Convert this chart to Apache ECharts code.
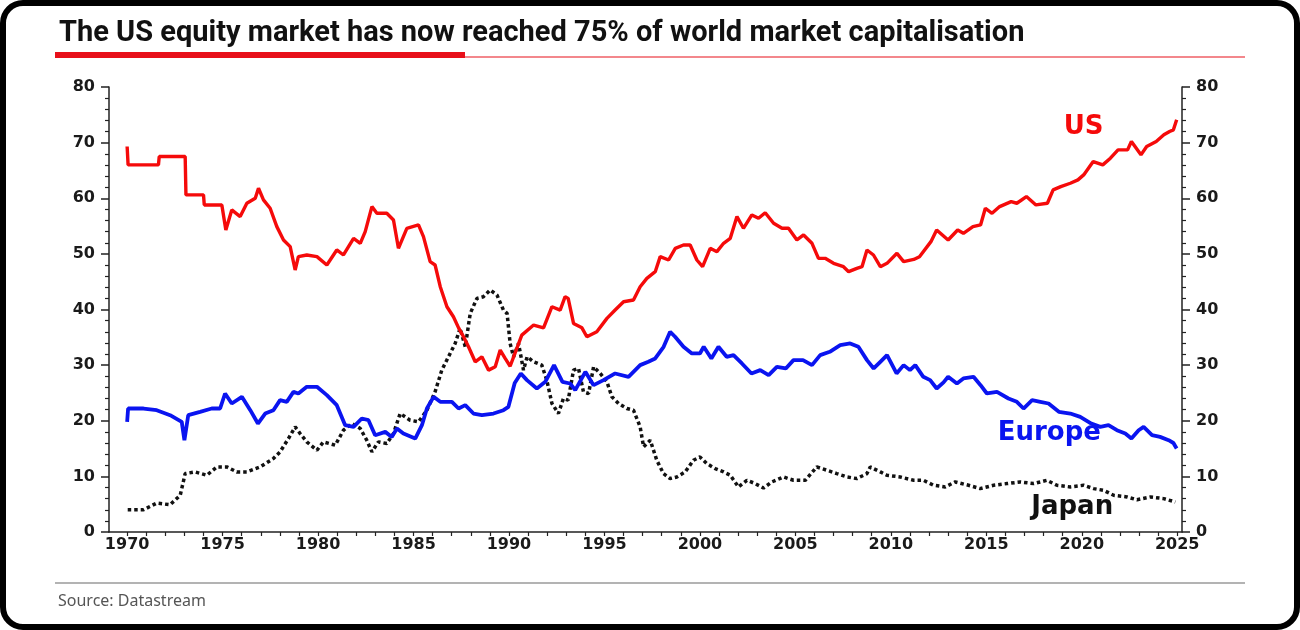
<!DOCTYPE html>
<html>
<head>
<meta charset="utf-8">
<script src="https://cdn.jsdelivr.net/npm/echarts@6/dist/echarts.min.js"></script>
<style>
  html, body { margin: 0; padding: 0; background: #fff; }
  #chart { width: 1300px; height: 630px; }
</style>
</head>
<body>
<div id="chart"></div>
<script>
// share of world market capitalisation, % ([year, value])
const usData = [
  [1970.0, 69.3], [1970.05, 66.0], [1971.64, 66.0], [1971.68, 67.5], [1973.04, 67.5], [1973.08, 60.6],
  [1974.0, 60.6], [1974.04, 58.8], [1974.96, 58.8], [1975.17, 54.3], [1975.48, 57.9], [1975.92, 56.7],
  [1976.27, 59.1], [1976.71, 60.0], [1976.88, 61.8], [1977.14, 59.7], [1977.49, 58.2], [1977.84, 54.9],
  [1978.19, 52.5], [1978.54, 51.3], [1978.8, 47.1], [1978.97, 49.5], [1979.41, 49.8], [1979.94, 49.5],
  [1980.46, 48.0], [1980.98, 50.7], [1981.33, 49.8], [1981.86, 52.8], [1982.21, 51.9], [1982.47, 54.0],
  [1982.82, 58.5], [1983.08, 57.3], [1983.6, 57.3], [1983.95, 56.1], [1984.21, 51.0], [1984.65, 54.6],
  [1985.26, 55.2], [1985.52, 53.1], [1985.87, 48.6], [1986.13, 48.0], [1986.4, 44.1], [1986.75, 40.5],
  [1987.09, 38.7], [1987.36, 36.7], [1987.62, 35.1], [1987.88, 33.3], [1988.23, 30.6], [1988.58, 31.5],
  [1988.93, 29.1], [1989.28, 29.7], [1989.54, 32.7], [1989.8, 31.2], [1990.06, 29.8], [1990.67, 35.4],
  [1991.29, 37.2], [1991.81, 36.7], [1992.25, 40.5], [1992.68, 39.9], [1992.94, 42.3], [1993.1, 42.0],
  [1993.38, 37.5], [1993.82, 36.7], [1994.08, 35.1], [1994.6, 36.0], [1995.13, 38.4], [1995.56, 39.9],
  [1996.0, 41.4], [1996.52, 41.7], [1996.87, 44.1], [1997.22, 45.6], [1997.66, 46.8], [1997.92, 49.5],
  [1998.36, 48.9], [1998.71, 51.0], [1999.14, 51.6], [1999.49, 51.6], [1999.84, 48.9], [2000.14, 47.7],
  [2000.54, 51.0], [2000.89, 50.4], [2001.24, 51.9], [2001.59, 52.8], [2001.94, 56.7], [2002.28, 54.6],
  [2002.72, 57.0], [2003.07, 56.4], [2003.42, 57.4], [2003.86, 55.5], [2004.3, 54.6], [2004.64, 54.6],
  [2005.08, 52.5], [2005.43, 53.4], [2005.87, 51.9], [2006.21, 49.2], [2006.56, 49.2], [2007.0, 48.3],
  [2007.52, 47.7], [2007.79, 46.8], [2008.22, 47.4], [2008.49, 47.7], [2008.75, 50.7], [2009.09, 49.8],
  [2009.45, 47.7], [2009.8, 48.3], [2010.32, 50.1], [2010.67, 48.6], [2011.2, 49.0], [2011.5, 49.5],
  [2012.1, 52.2], [2012.4, 54.3], [2012.7, 53.4], [2013.0, 52.5], [2013.5, 54.3], [2013.8, 53.7],
  [2014.3, 54.9], [2014.7, 55.2], [2014.95, 58.2], [2015.3, 57.3], [2015.7, 58.5], [2016.3, 59.4],
  [2016.6, 59.1], [2017.1, 60.3], [2017.6, 58.8], [2018.2, 59.1], [2018.5, 61.5], [2018.9, 62.1],
  [2019.4, 62.7], [2019.8, 63.3], [2020.1, 64.2], [2020.6, 66.6], [2021.1, 66.0], [2021.5, 67.2],
  [2021.9, 68.7], [2022.4, 68.7], [2022.6, 70.2], [2023.1, 67.8], [2023.4, 69.3], [2023.9, 70.2],
  [2024.3, 71.4], [2024.6, 72.0], [2024.8, 72.3], [2024.97, 74.1]
];

const europeData = [
  [1970.0, 19.8], [1970.05, 22.2], [1970.86, 22.2], [1971.55, 21.9], [1972.25, 21.0], [1972.86, 19.8],
  [1973.0, 16.5], [1973.2, 21.0], [1973.82, 21.6], [1974.43, 22.2], [1974.87, 22.2], [1975.13, 24.9],
  [1975.48, 23.1], [1976.01, 24.3], [1976.45, 21.9], [1976.85, 19.5], [1977.23, 21.3], [1977.66, 21.9],
  [1978.01, 23.7], [1978.36, 23.4], [1978.71, 25.2], [1978.97, 24.9], [1979.41, 26.1], [1979.94, 26.1],
  [1980.46, 24.6], [1980.98, 22.8], [1981.42, 19.2], [1981.86, 18.9], [1982.29, 20.4], [1982.64, 20.1],
  [1982.99, 17.4], [1983.52, 18.0], [1983.86, 17.1], [1984.13, 18.6], [1984.47, 17.7], [1985.09, 16.8],
  [1985.44, 19.2], [1985.7, 22.2], [1986.05, 24.3], [1986.4, 23.4], [1987.01, 23.4], [1987.36, 22.2],
  [1987.71, 22.8], [1988.14, 21.3], [1988.58, 21.0], [1989.19, 21.3], [1989.71, 21.9], [1989.97, 22.5],
  [1990.3, 26.8], [1990.62, 28.5], [1990.94, 27.3], [1991.46, 25.8], [1991.9, 27.0], [1992.36, 30.0],
  [1992.8, 27.0], [1993.2, 26.7], [1993.47, 25.5], [1994.0, 28.8], [1994.43, 26.4], [1994.95, 27.3],
  [1995.56, 28.5], [1996.26, 27.9], [1996.87, 30.0], [1997.3, 30.6], [1997.66, 31.2], [1998.1, 33.3],
  [1998.44, 36.0], [1998.7, 35.1], [1999.14, 33.3], [1999.58, 32.1], [2000.0, 32.1], [2000.2, 33.3],
  [2000.6, 31.2], [2000.97, 33.3], [2001.4, 31.5], [2001.76, 31.8], [2002.2, 30.3], [2002.7, 28.5],
  [2003.16, 29.1], [2003.6, 28.2], [2004.03, 29.7], [2004.5, 29.4], [2004.9, 30.9], [2005.4, 30.9],
  [2005.87, 30.0], [2006.3, 31.8], [2006.8, 32.4], [2007.35, 33.6], [2007.87, 33.9], [2008.3, 33.3],
  [2008.75, 30.9], [2009.1, 29.4], [2009.45, 30.6], [2009.8, 31.8], [2010.3, 28.5], [2010.67, 30.0],
  [2011.0, 29.1], [2011.28, 30.0], [2011.7, 27.9], [2012.06, 27.3], [2012.4, 25.8], [2012.76, 26.9],
  [2013.0, 27.9], [2013.46, 26.7], [2013.8, 27.6], [2014.33, 27.9], [2014.7, 26.4], [2015.03, 24.9],
  [2015.56, 25.2], [2016.16, 24.0], [2016.6, 23.4], [2016.95, 22.2], [2017.4, 23.7], [2017.83, 23.4],
  [2018.26, 23.1], [2018.8, 21.6], [2019.4, 21.3], [2019.92, 20.7], [2020.5, 19.5], [2020.97, 18.9],
  [2021.4, 19.2], [2021.84, 18.3], [2022.28, 17.7], [2022.6, 16.8], [2022.98, 18.3], [2023.24, 18.9],
  [2023.68, 17.4], [2024.1, 17.1], [2024.55, 16.5], [2024.8, 16.0], [2024.97, 15.0]
];

const japanData = [
  [1970.03, 4.0], [1970.86, 4.0], [1971.55, 5.2], [1972.25, 4.9], [1972.78, 6.6], [1973.04, 10.5],
  [1973.56, 10.8], [1974.17, 10.2], [1974.7, 11.7], [1975.22, 11.7], [1975.74, 10.8], [1976.27, 10.8],
  [1976.97, 11.7], [1977.66, 13.2], [1978.01, 14.4], [1978.45, 16.8], [1978.8, 18.9], [1979.06, 17.7],
  [1979.41, 16.2], [1979.94, 14.7], [1980.28, 16.2], [1980.9, 15.6], [1981.33, 18.3], [1981.77, 19.5],
  [1982.21, 18.6], [1982.55, 16.5], [1982.82, 14.4], [1983.16, 16.2], [1983.6, 15.9], [1983.95, 17.7],
  [1984.3, 21.3], [1984.82, 20.1], [1985.26, 19.8], [1985.7, 21.9], [1986.13, 25.2], [1986.48, 29.1],
  [1986.83, 31.5], [1987.18, 33.9], [1987.44, 36.6], [1987.71, 33.3], [1987.97, 39.3], [1988.32, 42.0],
  [1988.66, 42.3], [1989.02, 43.5], [1989.37, 42.6], [1989.71, 39.9], [1989.9, 39.3], [1990.06, 33.9],
  [1990.24, 31.5], [1990.5, 33.9], [1990.76, 29.1], [1990.95, 31.5], [1991.29, 30.6], [1991.72, 30.0],
  [1991.98, 27.3], [1992.25, 23.1], [1992.59, 21.3], [1992.85, 24.0], [1993.1, 23.7], [1993.38, 29.1],
  [1993.64, 29.4], [1993.9, 25.2], [1994.17, 24.9], [1994.43, 29.7], [1994.78, 28.5], [1995.13, 27.0],
  [1995.39, 24.3], [1995.74, 23.1], [1996.17, 22.2], [1996.52, 21.9], [1996.87, 18.9], [1997.05, 15.3],
  [1997.4, 16.5], [1997.74, 12.9], [1998.09, 10.5], [1998.44, 9.6], [1998.79, 9.9], [1999.23, 10.8],
  [1999.66, 12.9], [2000.0, 13.5], [2000.36, 12.3], [2000.8, 11.4], [2001.24, 10.8], [2001.59, 10.2],
  [2002.02, 8.1], [2002.46, 9.3], [2002.9, 8.7], [2003.33, 7.9], [2003.77, 9.0], [2004.38, 9.9],
  [2004.9, 9.3], [2005.52, 9.3], [2006.12, 11.7], [2006.65, 11.1], [2007.17, 10.5], [2007.7, 9.9],
  [2008.22, 9.6], [2008.75, 10.5], [2008.92, 11.7], [2009.45, 10.8], [2009.79, 10.2], [2010.49, 9.9],
  [2011.19, 9.3], [2011.71, 9.3], [2012.24, 8.4], [2012.85, 8.1], [2013.37, 9.0], [2014.07, 8.4],
  [2014.68, 7.8], [2015.38, 8.4], [2016.08, 8.7], [2016.78, 9.0], [2017.48, 8.7], [2018.17, 9.3],
  [2018.7, 8.4], [2019.4, 8.1], [2020.09, 8.4], [2020.62, 7.8], [2021.14, 7.5], [2021.67, 6.6],
  [2022.37, 6.3], [2022.89, 5.8], [2023.59, 6.3], [2024.29, 6.0], [2024.9, 5.4]
];

const yearLabels = [1970, 1975, 1980, 1985, 1990, 1995, 2000, 2005, 2010, 2015, 2020, 2025];
const yearTicks = [];
for (let y = 1970; y <= 2025; y++) yearTicks.push(y);

// where the series names sit, in data coordinates
const seriesLabels = {
  US: [2020.1, 72.8],
  Europe: [2018.3, 17.8],
  Japan: [2019.5, 4.5]
};

const axisFont = { fontFamily: 'DejaVu Sans', fontWeight: 'bold', fontSize: 16, color: '#1a1a1a' };

function nameMark(name, color) {
  return {
    symbolSize: 0,
    silent: true,
    animation: false,
    label: {
      show: true,
      position: 'inside',
      formatter: name,
      color: color,
      fontFamily: 'DejaVu Sans',
      fontWeight: 'bold',
      fontSize: 26
    },
    data: [{ coord: seriesLabels[name] }]
  };
}

function yAxisDef(pos) {
  return {
    type: 'value',
    position: pos,
    min: 0,
    max: 80,
    interval: 10,
    axisLine: { show: true, lineStyle: { color: '#222', width: 1.5 } },
    axisTick: { show: true, length: 8, lineStyle: { color: '#222', width: 1.5 } },
    minorTick: { show: true, splitNumber: 5, length: 4, lineStyle: { color: '#222', width: 1.2 } },
    splitLine: { show: false },
    axisLabel: Object.assign({ margin: 14 }, axisFont)
  };
}

const chart = echarts.init(document.getElementById('chart'), null, { renderer: 'canvas' });

chart.setOption({
  animation: false,
  backgroundColor: '#fff',
  grid: { left: 109, right: 118, top: 87, bottom: 98, containLabel: false },
  xAxis: {
    type: 'value',
    min: 1969.05,
    max: 2025.25,
    axisLine: { show: true, onZero: false, lineStyle: { color: '#222', width: 1.5 } },
    axisTick: { show: true, length: 4, customValues: yearTicks, lineStyle: { color: '#222', width: 1.2 } },
    splitLine: { show: false },
    axisLabel: Object.assign({ margin: 5, customValues: yearLabels, formatter: v => String(v) }, axisFont)
  },
  yAxis: [yAxisDef('left'), yAxisDef('right')],
  series: [
    {
      name: 'Japan',
      type: 'line',
      data: japanData,
      showSymbol: false,
      lineStyle: { color: '#111', width: 3.5, type: [3.5, 3], cap: 'butt' },
      markPoint: nameMark('Japan', '#111')
    },
    {
      name: 'Europe',
      type: 'line',
      data: europeData,
      showSymbol: false,
      lineStyle: { color: '#0a14f0', width: 3.8 },
      markPoint: nameMark('Europe', '#0a14f0')
    },
    {
      name: 'US',
      type: 'line',
      data: usData,
      showSymbol: false,
      lineStyle: { color: '#f50a0a', width: 3.4 },
      markPoint: nameMark('US', '#f50a0a')
    }
  ],
  graphic: [
    {
      type: 'rect',
      shape: { x: 3, y: 3, width: 1294, height: 624, r: 20 },
      style: { fill: 'none', stroke: '#000', lineWidth: 6 },
      silent: true
    },
    {
      type: 'text',
      x: 59,
      y: 34,
      style: {
        text: 'The US equity market has now reached 75% of world market capitalisation',
        fontFamily: 'Roboto',
        fontWeight: 'bold',
        fontSize: 29,
        fill: '#111',
        verticalAlign: 'middle'
      }
    },
    {
      type: 'line',
      shape: { x1: 465, y1: 57, x2: 1245, y2: 57 },
      style: { stroke: '#e8101a', lineWidth: 1.2 }
    },
    {
      type: 'rect',
      shape: { x: 55, y: 52, width: 410, height: 6 },
      style: { fill: '#e8101a' }
    },
    {
      type: 'line',
      shape: { x1: 55, y1: 583, x2: 1245, y2: 583 },
      style: { stroke: '#9a9a9a', lineWidth: 1.5 }
    },
    {
      type: 'text',
      x: 58,
      y: 601,
      style: {
        text: 'Source: Datastream',
        fontFamily: 'Noto Sans',
        fontSize: 16,
        fill: '#555',
        verticalAlign: 'middle'
      }
    }
  ]
});
</script>
</body>
</html>
